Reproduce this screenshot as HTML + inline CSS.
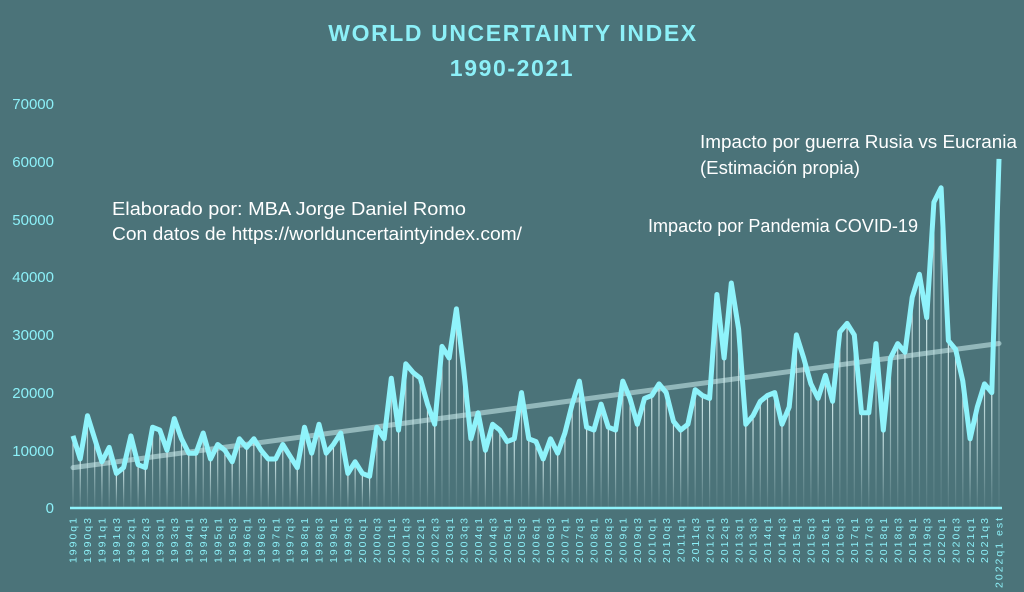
<!DOCTYPE html>
<html><head><meta charset="utf-8"><style>
html,body{margin:0;padding:0;background:#4b7379;}
svg{display:block;}
</style></head><body>
<svg id="c" width="1024" height="592" xmlns="http://www.w3.org/2000/svg" font-family="Liberation Sans, sans-serif">
<defs><linearGradient id="g" x1="0" y1="0" x2="0" y2="1"><stop offset="0" stop-color="#e8ffff" stop-opacity="0.85"/><stop offset="1" stop-color="#e8ffff" stop-opacity="0.05"/></linearGradient></defs>
<rect width="1024" height="592" fill="#4b7379"/>
<text x="513" y="41" text-anchor="middle" font-size="23" font-weight="bold" fill="#8cf0f8" letter-spacing="1.6">WORLD UNCERTAINTY INDEX</text>
<text x="512" y="76" text-anchor="middle" font-size="23" font-weight="bold" fill="#8cf0f8" letter-spacing="1.6">1990-2021</text>
<g font-size="15" fill="#8cf0f8" text-anchor="end">
<text x="54" y="513">0</text><text x="54" y="456">10000</text><text x="54" y="398">20000</text><text x="54" y="340">30000</text><text x="54" y="282">40000</text><text x="54" y="225">50000</text><text x="54" y="167">60000</text><text x="54" y="109">70000</text>
</g>
<g font-size="18" fill="#ffffff">
<text x="112" y="215" textLength="354" lengthAdjust="spacingAndGlyphs">Elaborado por: MBA Jorge Daniel Romo</text>
<text x="112" y="240" textLength="410" lengthAdjust="spacingAndGlyphs">Con datos de https://worlduncertaintyindex.com/</text>
<text x="700" y="148" textLength="317" lengthAdjust="spacingAndGlyphs">Impacto por guerra Rusia vs Eucrania</text>
<text x="700" y="174" textLength="160" lengthAdjust="spacingAndGlyphs">(Estimación propia)</text>
<text x="648" y="232" textLength="270" lengthAdjust="spacingAndGlyphs">Impacto por Pandemia COVID-19</text>
</g>
<g id="bars"></g>
<line x1="73" y1="467.6" x2="999" y2="343.5" stroke="#cdeff0" stroke-opacity="0.55" stroke-width="5" stroke-linecap="round"/>
<polyline id="ln" fill="none" stroke="#8ff3fb" stroke-width="5" stroke-linejoin="round"/>
<line x1="70" y1="508" x2="1002" y2="508" stroke="#8ff3fb" stroke-width="2.5"/>
<g id="lb" font-size="10.5" fill="#8cf0f8" letter-spacing="2"></g>
</svg>
<script>
var d=[12.5,8.5,16,12,8,10.5,6,7,12.5,7.5,7,14,13.5,10,15.5,12,9.5,9.5,13,8.5,11,10,8,12,10.5,12,10,8.5,8.5,11,9,7,14,9.5,14.5,9.5,11,13,6,8,6,5.5,14,12,22.5,13.5,25,23.5,22.5,18,14.5,28,26,34.5,24,12,16.5,10,14.5,13.5,11.5,12,20,12,11.5,8.5,12,9.5,13,18,22,14,13.5,18,14,13.5,22,19,14.5,19,19.5,21.5,20,15,13.5,14.5,20.5,19.5,19,37,26,39,31,14.5,16,18.5,19.5,20,14.5,17.5,30,26,21.5,19,23,18.5,30.5,32,30,16.5,16.5,28.5,13.5,26,28.5,27,36.5,40.5,33,53,55.5,29,27.5,22,12,17.5,21.5,20,60.5];
var ns="http://www.w3.org/2000/svg",pts=[],b=document.getElementById('bars'),lb=document.getElementById('lb');
for(var i=0;i<d.length;i++){var x=73+i*926/128,y=508-d[i]*5.77;pts.push(x.toFixed(1)+','+y.toFixed(1));
var l=document.createElementNS(ns,'rect');l.setAttribute('x',x-0.6);l.setAttribute('y',y);l.setAttribute('width',1.2);l.setAttribute('height',508-y);l.setAttribute('fill','url(#g)');b.appendChild(l);
if(i%2==0){var t=document.createElementNS(ns,'text');var yr=1990+Math.floor(i/4),q=(i%4)+1;t.textContent=yr+'q'+q+(i==128?' est':'');t.setAttribute('transform','translate('+(x+3.7)+',516) rotate(-90)');t.setAttribute('text-anchor','end');lb.appendChild(t);}}
document.getElementById('ln').setAttribute('points',pts.join(' '));
</script>
</body></html>
